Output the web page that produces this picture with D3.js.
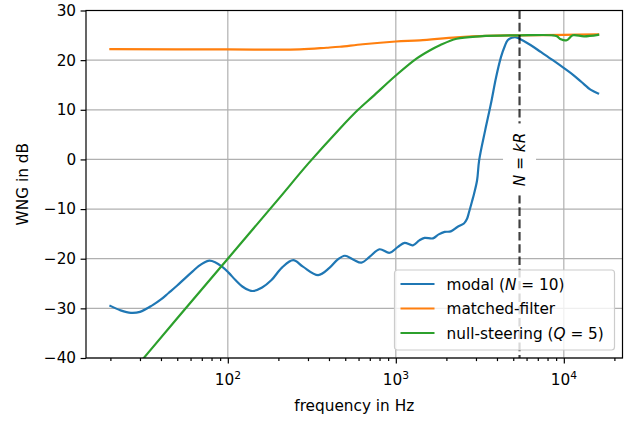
<!DOCTYPE html>
<html>
<head>
<meta charset="utf-8">
<script src="https://cdn.jsdelivr.net/npm/d3@7/dist/d3.min.js"></script>
<style>
  body { margin: 0; background: #fff; }
  text { font-family: "DejaVu Sans", sans-serif; fill: #000; }
</style>
</head>
<body>
<div id="chart"></div>
<script>
// WNG curves (frequency in Hz, WNG in dB)
const freqModal = [20, 23, 26.5, 30, 35.5, 40, 44.4, 50, 55.8, 62, 67, 72, 77.6, 84, 92.4, 101, 111, 122, 133, 141, 160, 182, 210, 245, 280, 345, 404, 450, 497, 560, 624, 700, 800, 918, 1030, 1128, 1263, 1380, 1483, 1663, 1800, 1953, 2123, 2325, 2543, 2650, 2729, 2850, 2923, 3046, 3133, 3400, 3681, 3950, 4225, 4450, 4632, 4900, 5197, 5450, 6300, 7328, 8600, 10120, 11400, 12740, 14500, 16000];
const wngModal = [-29.5, -30.4, -30.9, -30.7, -29.4, -28.2, -26.9, -25.4, -23.9, -22.5, -21.5, -20.8, -20.4, -20.7, -21.6, -22.8, -24.3, -25.6, -26.3, -26.5, -25.8, -24.3, -21.8, -20.3, -21.6, -23.3, -21.8, -20.2, -19.4, -20.2, -20.8, -19.6, -18.1, -18.8, -17.6, -16.8, -17.3, -16.3, -15.8, -15.9, -15.1, -14.6, -14.5, -13.6, -12.9, -12.0, -10.6, -8.3, -6.9, -4.2, -0.2, 5.8, 11.2, 16.5, 20.6, 22.8, 24.0, 24.5, 24.6, 24.3, 23.1, 21.6, 20.0, 18.3, 17.0, 15.6, 14.0, 13.3];

const freqMatched = [20, 100, 268, 387, 464, 636, 1000, 1390, 2300, 3500, 5450, 10000, 16000];
const wngMatched = [22.2, 22.15, 22.15, 22.5, 22.7, 23.2, 23.75, 24.0, 24.6, 24.9, 25.0, 25.1, 25.2];

const freqNull = [20, 50, 100, 200, 300, 464, 596, 731, 1000, 1327, 1600, 1829, 2300, 3162, 5450, 8640, 9100, 9600, 10400, 11300, 13200, 16000];
const wngNull = [-48, -32, -20, -8, -0.9, 6.2, 10.0, 12.7, 16.9, 20.3, 22.0, 23.0, 24.3, 24.8, 25.0, 25.0, 24.8, 24.2, 24.0, 25.0, 24.8, 25.1];

const fKR = 5450; // N = kR
const yTicks = [-40, -30, -20, -10, 0, 10, 20, 30];
const xMajorTicks = [100, 1000, 10000];
const xMinorTicks = [20, 30, 40, 50, 60, 70, 80, 90, 200, 300, 400, 500, 600, 700, 800, 900,
  2000, 3000, 4000, 5000, 6000, 7000, 8000, 9000, 20000];

const W = 633, H = 421;
const margin = { left: 86, right: 10.5, top: 10.5, bottom: 63 };
const iw = W - margin.left - margin.right;
const ih = H - margin.top - margin.bottom;
const fs = 15.3;

const svg = d3.select("#chart").append("svg")
  .attr("width", W).attr("height", H);

// x domain: data extent with 5% padding in log space
const lo = Math.log10(d3.min(freqModal)), hi = Math.log10(d3.max(freqModal));
const pad = 0.05 * (hi - lo);
const x = d3.scaleLog().domain([10 ** (lo - pad), 10 ** (hi + pad)]).range([0, iw]);
const y = d3.scaleLinear().domain([-40, 30]).range([ih, 0]);

const g = svg.append("g").attr("transform", `translate(${margin.left},${margin.top})`);

g.append("clipPath").attr("id", "clip")
  .append("rect").attr("width", iw).attr("height", ih);

// grid
g.append("g").selectAll("line").data(xMajorTicks).join("line")
  .attr("x1", d => x(d)).attr("x2", d => x(d)).attr("y1", 0).attr("y2", ih)
  .attr("stroke", "#b0b0b0").attr("stroke-width", 1.2);
g.append("g").selectAll("line").data(yTicks).join("line")
  .attr("x1", 0).attr("x2", iw).attr("y1", d => y(d)).attr("y2", d => y(d))
  .attr("stroke", "#b0b0b0").attr("stroke-width", 1.2);

// curves
const line = (fr, vs) => d3.line().curve(d3.curveCatmullRom.alpha(0.5))
  .x((d, i) => x(fr[i])).y((d, i) => y(vs[i]))(vs);

const series = [
  { f: freqModal, v: wngModal, color: "#1f77b4" },
  { f: freqMatched, v: wngMatched, color: "#ff7f0e" },
  { f: freqNull, v: wngNull, color: "#2ca02c" }
];
const curves = g.append("g").attr("clip-path", "url(#clip)");
series.forEach(s => {
  curves.append("path").attr("d", line(s.f, s.v))
    .attr("fill", "none").attr("stroke", s.color).attr("stroke-width", 2.2)
    .attr("stroke-linejoin", "round").attr("stroke-linecap", "square");
});

// N = kR marker
g.append("line")
  .attr("x1", x(fKR)).attr("x2", x(fKR)).attr("y1", 0).attr("y2", ih)
  .attr("stroke", "#000").attr("stroke-opacity", 0.75).attr("stroke-width", 2.2)
  .attr("stroke-dasharray", "8.6,3.7");
g.append("rect")
  .attr("x", x(fKR) - 16.5).attr("y", y(0) - 36).attr("width", 33).attr("height", 72)
  .attr("fill", "#fff");
const kr = g.append("text")
  .attr("transform", `translate(${x(fKR) + 5.5},${y(0)}) rotate(-90)`)
  .attr("text-anchor", "middle").attr("font-size", fs);
kr.append("tspan").attr("font-style", "italic").text("N");
kr.append("tspan").text(" = ");
kr.append("tspan").attr("font-style", "italic").text("kR");

// axes
const xAxis = g.append("g").attr("transform", `translate(0,${ih})`);
xAxis.call(d3.axisBottom(x).tickValues(xMajorTicks).tickSize(5.4).tickFormat(""));
xAxis.append("g").call(d3.axisBottom(x).tickValues(xMinorTicks).tickSize(3.1).tickFormat(""));
xAxis.selectAll(".domain").remove();
xAxis.selectAll("line").attr("stroke", "#000").attr("stroke-width", 1.2);
xMajorTicks.forEach(d => {
  const t = xAxis.append("text").attr("x", x(d)).attr("y", 27)
    .attr("text-anchor", "middle").attr("font-size", fs);
  t.append("tspan").text("10");
  t.append("tspan").attr("font-size", fs * 0.7).attr("dy", -6.5).text(Math.log10(d));
});

const yAxis = g.append("g");
yAxis.call(d3.axisLeft(y).tickValues(yTicks).tickSize(5.4).tickPadding(4.5)
  .tickFormat(d => d < 0 ? "\u2212" + Math.abs(d) : d));
yAxis.selectAll(".domain").remove();
yAxis.selectAll("line").attr("stroke", "#000").attr("stroke-width", 1.2);
yAxis.selectAll("text").attr("font-size", fs).attr("font-family", "DejaVu Sans");

// frame
g.append("rect").attr("width", iw).attr("height", ih)
  .attr("fill", "none").attr("stroke", "#000").attr("stroke-width", 1.2);

// labels
svg.append("text").attr("x", margin.left + iw / 2).attr("y", 411)
  .attr("text-anchor", "middle").attr("font-size", fs).text("frequency in Hz");
svg.append("text").attr("transform", `translate(28,${margin.top + ih / 2}) rotate(-90)`)
  .attr("text-anchor", "middle").attr("font-size", fs).text("WNG in dB");

// legend
const legend = g.append("g").attr("transform", `translate(${iw - 228},${ih - 88})`);
legend.append("rect").attr("width", 220).attr("height", 80).attr("rx", 3)
  .attr("fill", "#fff").attr("fill-opacity", 0.8).attr("stroke", "#ccc").attr("stroke-width", 1.2);
const entries = [
  { parts: [["modal (", false], ["N", true], [" = 10)", false]], color: "#1f77b4" },
  { parts: [["matched-filter", false]], color: "#ff7f0e" },
  { parts: [["null-steering (", false], ["Q", true], [" = 5)", false]], color: "#2ca02c" }
];
entries.forEach((e, i) => {
  const yy = 14 + i * 24.5;
  legend.append("line").attr("x1", 6).attr("x2", 40).attr("y1", yy).attr("y2", yy)
    .attr("stroke", e.color).attr("stroke-width", 2.2);
  const t = legend.append("text").attr("x", 52).attr("y", yy + 5.5).attr("font-size", fs);
  e.parts.forEach(p => t.append("tspan").attr("font-style", p[1] ? "italic" : null).text(p[0]));
});
</script>
</body>
</html>
